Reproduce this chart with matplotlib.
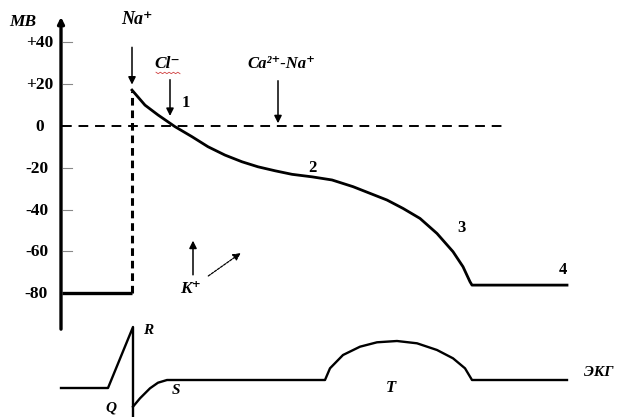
import numpy as np
import matplotlib.pyplot as plt

# action potential (time in arbitrary units, potential in mV)
rest_t = [62, 132]
rest_v = [-80, -80]
ap_t = [132, 145, 158, 175, 192, 208, 225, 242, 258, 275, 292, 312, 332,
        353, 370, 387, 403, 420, 437, 453, 463, 470, 472, 567]
ap_v = [17.2, 10, 5.3, -0.3, -5.1, -9.9, -13.9, -17.1, -19.5, -21.4, -23.1, -24.3, -25.8,
        -29, -32.2, -35.4, -39.4, -44.2, -51.4, -60.1, -67.3, -74.5, -76.1, -76.1]
yticks = [40, 20, 0, -20, -40, -60, -80]
ytick_labels = ['+40', '+20', '0', '-20', '-40', '-60', '-80']
phase_labels = ['1', '2', '3', '4']
phase_t = [186, 312, 462, 563]
phase_v = [11, -20, -49, -69]

# ECG (arbitrary units, baseline ~0)
ecg_qr_t = [61, 108, 133, 133]
ecg_qr_v = [-4, -4, 57, -45]
ecg_st_t = [133, 140, 150, 158, 167, 325, 330, 343, 360, 377, 397, 417, 437, 453, 465, 472, 567]
ecg_st_v = [-22.7, -14.3, -4.3, 1.3, 4, 4, 15.7, 29, 37.3, 41.7, 43, 40.7, 34, 25.7, 15.7, 4, 4]

fig = plt.figure(figsize=(6.34, 4.17), dpi=100)
ax = fig.add_axes([0, 0, 1, 1])
ax.set_xlim(0, 634)
ax.set_ylim(-139.2, 60.3)
ax.axis('off')

ax2 = fig.add_axes([0, 0, 1, 1])
ax2.set_xlim(0, 634)
ax2.set_ylim(-33, 384)
ax2.axis('off')
ax2.patch.set_alpha(0)

serif = ['Liberation Serif', 'DejaVu Serif']
lab = dict(family=serif, fontweight='bold', fontstyle='italic')

# y axis
ax.annotate('', xy=(61, 53.5), xytext=(61, -98.5),
            arrowprops=dict(arrowstyle='-|>', lw=2.4, color='black', mutation_scale=9))
ax.text(23, 50, 'MB', fontsize=12.5, ha='center', va='center', **lab)
for v, s in zip(yticks, ytick_labels):
    if v != 0:
        ax.plot([63, 72], [v, v], color='#888888', lw=0.8)
    xr = 44 if v == 0 else (53 if v > 0 else 48)
    ax.text(xr, v - 0.5, s, fontsize=12.5, ha='right', va='center', family=serif, fontweight='bold')

# zero line
ax.plot([62, 505], [0, 0], color='black', lw=1.4, dashes=(5, 3.5))

# AP
ax.plot(rest_t, rest_v, color='black', lw=2.4, solid_capstyle='butt')
ax.plot([132, 132], [-80, 17], color='black', lw=2.2, dashes=(2.5, 1.6))
ax.plot(ap_t, ap_v, color='black', lw=2.0, solid_joinstyle='round')
for s, t, v in zip(phase_labels, phase_t, phase_v):
    ax.text(t, v, s, fontsize=12, ha='center', va='center', family=serif, fontweight='bold')

# ion arrows
arr = dict(arrowstyle='-|>', lw=1.1, color='black', mutation_scale=11)
ax.annotate('', xy=(132, 18.5), xytext=(132, 39), arrowprops=arr)
ax.text(137, 51, 'Na\u207a', fontsize=13, ha='center', va='center', **lab)
ax.annotate('', xy=(170, 3.5), xytext=(170, 23.5), arrowprops=arr)
ax.text(167, 29.7, 'Cl\u207b', fontsize=12.5, ha='center', va='center', **lab)
ax.plot(np.linspace(156, 180, 12), 25.4 + 0.35 * np.array([1, -1] * 6), color='#d04040', lw=0.6)
ax.annotate('', xy=(278, 0), xytext=(278, 23), arrowprops=arr)
ax.text(281, 29.5, 'Ca\u00b2\u207a-Na\u207a', fontsize=12, ha='center', va='center', **lab)
ax.annotate('', xy=(193, -53.5), xytext=(193, -72.5), arrowprops=arr)
ax.annotate('', xy=(243, -60), xytext=(206, -72.5),
            arrowprops=dict(arrowstyle='-|>', lw=0.9, color='black', mutation_scale=11, linestyle=(0, (2, 1))))
ax.text(190, -78, 'K\u207a', fontsize=12.5, ha='center', va='center', **lab)

# ECG
ax2.plot(ecg_qr_t, ecg_qr_v, color='black', lw=1.7)
ax2.plot(ecg_st_t, ecg_st_v, color='black', lw=1.7)
ax2.text(148, 54, 'R', fontsize=11, ha='center', va='center', **lab)
ax2.text(111, -24, 'Q', fontsize=11, ha='center', va='center', **lab)
ax2.text(176, -6, 'S', fontsize=11, ha='center', va='center', **lab)
ax2.text(391, -4, 'T', fontsize=12, ha='center', va='center', **lab)
ax2.text(599, 11, '\u042d\u041a\u0413', fontsize=11, ha='center', va='center', **lab)

fig.savefig('out.png', dpi=100)
